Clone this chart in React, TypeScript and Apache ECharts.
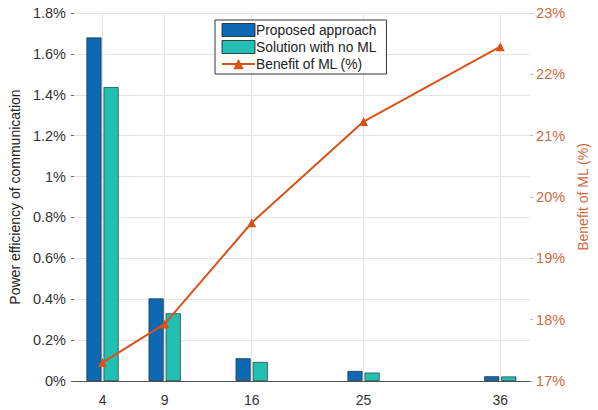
import React, { useEffect, useRef } from "react";
import * as echarts from "echarts";

// Number of users / nodes on the horizontal axis
const xValues = [4, 9, 16, 25, 36];
// Power efficiency of communication (%)
const proposed = [1.68, 0.404, 0.111, 0.049, 0.023];
const noML = [1.437, 0.331, 0.093, 0.041, 0.022];
// Benefit of ML (%)
const benefit = [17.3, 17.93, 19.58, 21.23, 22.45];

const leftTicks = [0, 0.2, 0.4, 0.6, 0.8, 1, 1.2, 1.4, 1.6, 1.8];
const rightTicks = [17, 18, 19, 20, 21, 22, 23];

const FONT = "'Liberation Sans', Arial, sans-serif";
const BLUE = "#0c69b3";
const TEAL = "#22bfb3";
const ORANGE = "#d95319";
const ORANGE_TEXT = "#cf6a3e";

export default function App() {
  const ref = useRef<HTMLDivElement>(null);

  useEffect(() => {
    if (!ref.current) return;
    const chart = echarts.init(ref.current, undefined, { renderer: "svg" });
    chart.setOption({
      animation: false,
      backgroundColor: "#ffffff",
      textStyle: { fontFamily: FONT },
      grid: { left: 73, right: 61, top: 13, bottom: 29, containLabel: false },
      legend: {
        orient: "vertical",
        left: 215,
        top: 20,
        padding: [3, 10, 3, 6],
        itemGap: 3,
        itemWidth: 33,
        itemHeight: 13,
        borderColor: "#333",
        borderWidth: 1,
        backgroundColor: "#ffffff",
        textStyle: { fontFamily: FONT, fontSize: 13.8, color: "#222", padding: [0, 0, 0, -4] },
        data: [
          {
            name: "Proposed approach",
            icon: "rect",
            itemStyle: { borderWidth: 0.8, borderColor: "#1a1a1a" },
          },
          {
            name: "Solution with no ML",
            icon: "rect",
            itemStyle: { borderWidth: 0.8, borderColor: "#1a1a1a" },
          },
          { name: "Benefit of ML (%)" },
        ],
      },
      xAxis: {
        type: "value",
        min: 1.7,
        max: 38.4,
        axisLine: { show: true, lineStyle: { color: "#555", width: 1 } },
        axisTick: { show: false, customValues: xValues },
        axisLabel: {
          customValues: xValues,
          fontFamily: FONT,
          fontSize: 14,
          color: "#333",
          margin: 12,
        },
        splitLine: { show: true, lineStyle: { color: "#e4e4e4", width: 1 } },
      },
      yAxis: [
        {
          type: "value",
          min: 0,
          max: 1.8,
          interval: 0.2,
          name: "Power efficiency of communication",
          nameLocation: "middle",
          nameGap: 48,
          nameTextStyle: { fontFamily: FONT, fontSize: 14, color: "#222" },
          axisLine: { show: false },
          axisTick: { show: true, length: 3, lineStyle: { color: "#666" } },
          axisLabel: {
            customValues: leftTicks,
            fontFamily: FONT,
            fontSize: 14.5,
            color: "#333",
            margin: 8,
            formatter: (v: number) => `${+v.toFixed(1)}%`,
          },
          splitLine: { show: true, lineStyle: { color: "#e4e4e4", width: 1 } },
        },
        {
          type: "value",
          min: 17,
          max: 23,
          interval: 1,
          position: "right",
          name: "Benefit of ML (%)",
          nameLocation: "middle",
          nameGap: 40,
          nameRotate: 90,
          nameTextStyle: { fontFamily: FONT, fontSize: 14, color: ORANGE_TEXT },
          axisLine: { show: false },
          axisTick: { show: true, length: 3, inside: false, lineStyle: { color: "#bbb" } },
          axisLabel: {
            customValues: rightTicks,
            fontFamily: FONT,
            fontSize: 14.5,
            color: ORANGE_TEXT,
            margin: 6,
            formatter: (v: number) => `${v}%`,
          },
          splitLine: { show: false },
        },
      ],
      series: [
        {
          name: "Proposed approach",
          type: "bar",
          yAxisIndex: 0,
          barWidth: 15,
          barGap: "14%",
          data: xValues.map((x, i) => [x, proposed[i]]),
          itemStyle: { color: BLUE, borderColor: "#1a1a1a", borderWidth: 0.6 },
        },
        {
          name: "Solution with no ML",
          type: "bar",
          yAxisIndex: 0,
          barWidth: 15,
          barGap: "14%",
          data: xValues.map((x, i) => [x, noML[i]]),
          itemStyle: { color: TEAL, borderColor: "#1a1a1a", borderWidth: 0.6 },
        },
        {
          name: "Benefit of ML (%)",
          type: "line",
          yAxisIndex: 1,
          data: xValues.map((x, i) => [x, benefit[i]]),
          symbol: "triangle",
          symbolSize: 9,
          lineStyle: { color: ORANGE, width: 2 },
          itemStyle: { color: ORANGE },
          z: 5,
        },
      ],
    });
    return () => chart.dispose();
  }, []);

  return (
    <div
      ref={ref}
      style={{ position: "absolute", left: 0, top: 0, width: 598, height: 410 }}
    />
  );
}
